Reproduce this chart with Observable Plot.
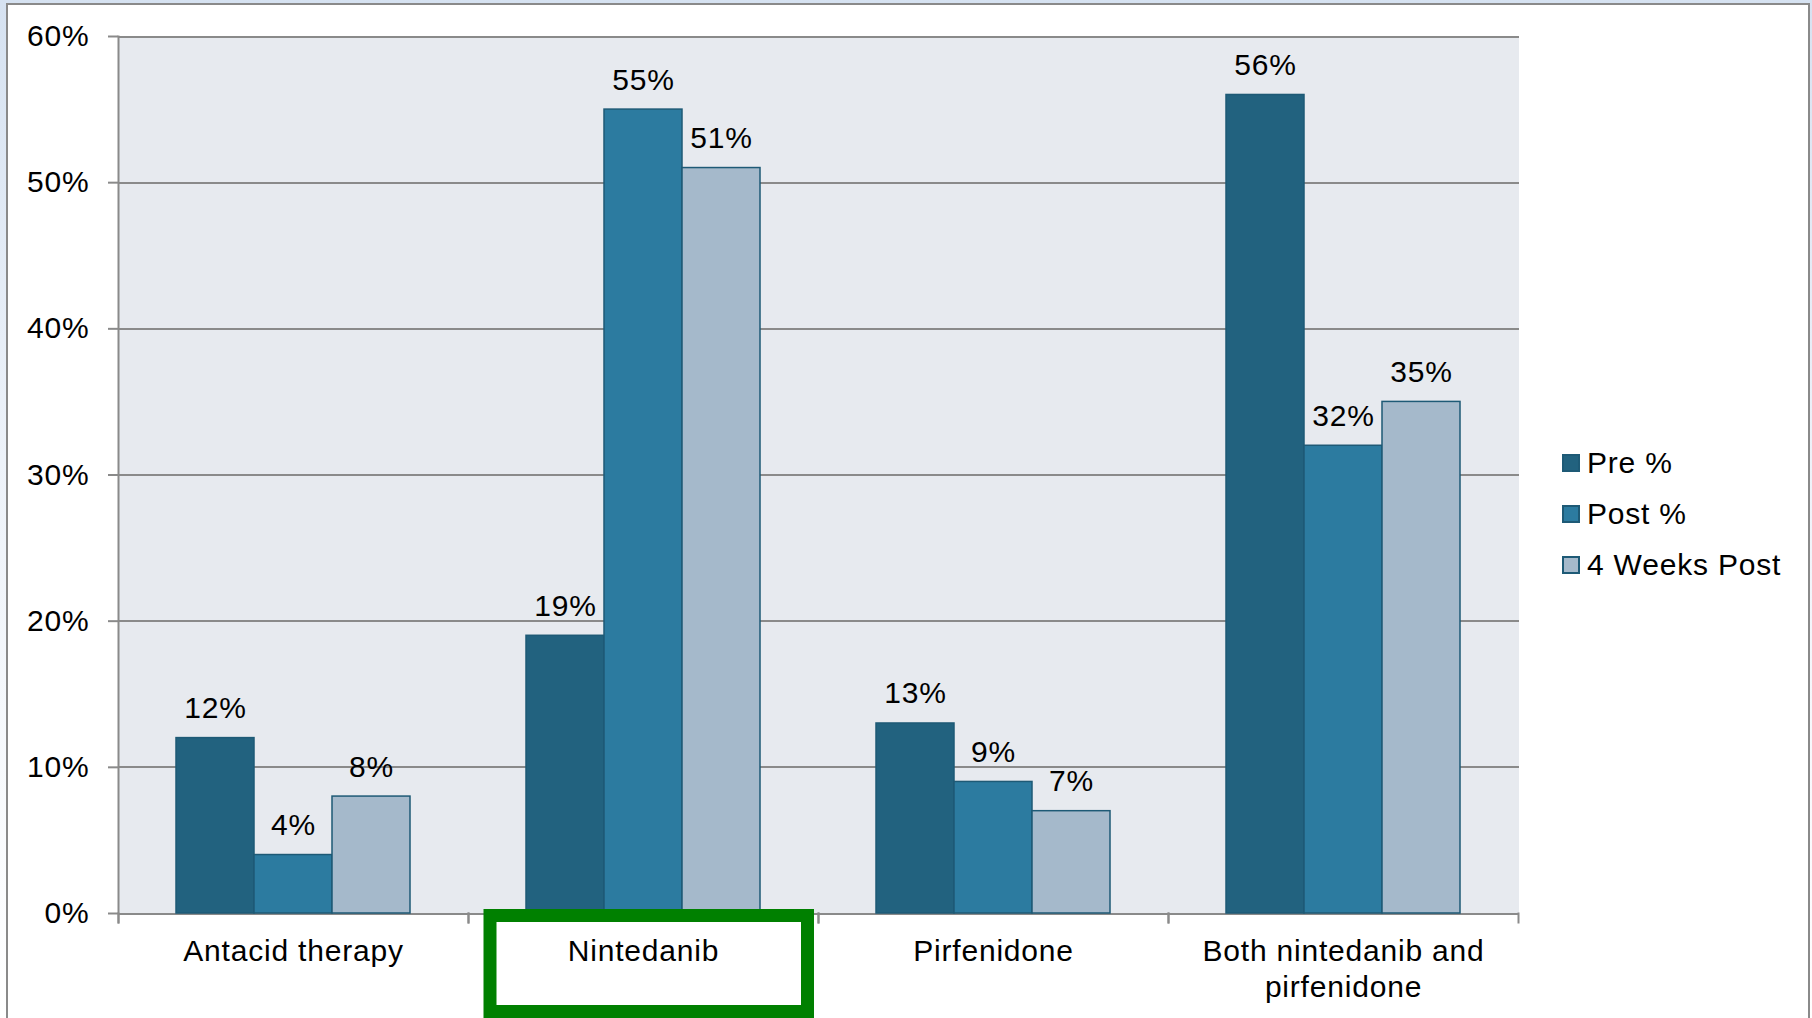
<!DOCTYPE html>
<html>
<head>
<meta charset="utf-8">
<script src="https://cdn.jsdelivr.net/npm/d3@7"></script>
<script src="https://cdn.jsdelivr.net/npm/@observablehq/plot@0.6"></script>
<style>
  html, body { margin: 0; padding: 0; }
  body {
    width: 1812px; height: 1018px; overflow: hidden; position: relative;
    background: linear-gradient(to bottom, #d6e2f1 0%, #edf2f9 45%, #ffffff 100%);
    font-family: "Liberation Sans", Arial, sans-serif;
  }
  #sheet {
    position: absolute; left: 6px; top: 3px; width: 1804px; height: 1040px;
    box-sizing: border-box; background: #ffffff; border: 2px solid #8a8a8a;
  }
  #chart { position: absolute; left: 0; top: 0; }
  #legend { position: absolute; left: 1562px; top: 0; }
  .legend-row {
    position: absolute; left: 0; height: 30px; line-height: 30px; white-space: nowrap;
    font-size: 30px; letter-spacing: 0.8px; color: #000;
  }
  .legend-swatch {
    position: absolute; left: 0; top: 6px; width: 18px; height: 18px;
    box-sizing: border-box; border: 2px solid #1e5a76;
  }
  .legend-label { position: absolute; left: 25px; top: 0; }
</style>
</head>
<body>
<div id="sheet"></div>
<div id="chart"></div>
<div id="legend"></div>
<script>
// Treatment groups along the horizontal axis
const categories = ["Antacid therapy", "Nintedanib", "Pirfenidone", "Both nintedanib and pirfenidone"];
const categoryLabels = ["Antacid therapy", "Nintedanib", "Pirfenidone", "Both nintedanib and\npirfenidone"];

// Survey time points (one bar each per group)
const series = ["Pre %", "Post %", "4 Weeks Post"];
const seriesColors = ["#22627f", "#2c7ba0", "#a5b9cb"];

// Percentages per group, in the order of `categories`
const preValues = [12, 19, 13, 56];
const postValues = [4, 55, 9, 32];
const weeksPostValues = [8, 51, 7, 35];

// Value axis ticks (percent)
const yTicks = [0, 10, 20, 30, 40, 50, 60];

// Group whose label is boxed in green
const highlightedCategory = "Nintedanib";

const valuesBySeries = [preValues, postValues, weeksPostValues];
const rows = categories.flatMap((category, i) =>
  series.map((s, j) => ({category, series: s, value: valuesBySeries[j][i]}))
);

const W = 1812, H = 1018;
const margin = {top: 36, right: 293, bottom: 105, left: 117};
const plotHeight = H - margin.top - margin.bottom;
const gray = "#8a8a8a";

const chart = Plot.plot({
  width: W,
  height: H,
  marginTop: margin.top,
  marginRight: margin.right,
  marginBottom: margin.bottom,
  marginLeft: margin.left,
  style: {
    background: "transparent",
    fontFamily: "'Liberation Sans', Arial, sans-serif",
    fontSize: "30px",
    letterSpacing: "0.8px",
    color: "#000"
  },
  fx: {domain: categories, padding: 0, label: null},
  x: {domain: series, paddingInner: 0, paddingOuter: 0.72, axis: null},
  y: {domain: [0, 60], label: null},
  color: {domain: series, range: seriesColors},
  marks: [
    // plot area background (crisp edges so the groups join without seams)
    Plot.frame({fill: "#e7eaef", stroke: null, shapeRendering: "crispEdges", insetRight: -0.5}),
    // horizontal gridlines, including the baseline
    Plot.ruleY(yTicks, {stroke: gray, strokeWidth: 2, shapeRendering: "crispEdges", insetRight: -0.5}),
    // bars
    Plot.barY(rows, {
      fx: "category", x: "series", y: "value", fill: "series",
      stroke: "#1e5a76", strokeWidth: 1.5
    }),
    // value labels above the bars
    Plot.text(rows, {
      fx: "category", x: "series", y: "value",
      text: d => d.value + "%", lineAnchor: "bottom", dy: -20, fill: "#000"
    }),
    // value axis
    Plot.axisY({
      ticks: yTicks, tickFormat: d => d + "%", tickSize: 10, tickPadding: 19,
      stroke: gray, strokeWidth: 2, fill: "#000", label: null
    }),
    // vertical axis line on the first group
    Plot.frame({anchor: "left", fx: () => categories[0], stroke: gray, strokeWidth: 2, insetBottom: -9}),
    // tick marks at the group boundaries
    Plot.frame({anchor: "left", stroke: gray, strokeWidth: 2, insetTop: plotHeight, insetBottom: -9}),
    Plot.frame({anchor: "right", stroke: gray, strokeWidth: 2, insetTop: plotHeight, insetBottom: -9}),
    // group labels
    Plot.axisFx({
      anchor: "bottom", tickSize: 0, tickPadding: 23, label: null,
      tickFormat: c => categoryLabels[categories.indexOf(c)], lineHeight: 1.17, fill: "#000"
    }),
    // green box around the highlighted group label
    Plot.rect([highlightedCategory], {
      fx: d => d, y1: 0, y2: 0, fill: "none", stroke: "#008000", strokeWidth: 13,
      insetLeft: 22, insetRight: 10.5, insetTop: 2.5, insetBottom: -98.5
    })
  ]
});
document.getElementById("chart").append(chart);

// Legend to the right of the plot
const legendCenters = [462.5, 513.5, 564.5];
const legend = document.getElementById("legend");
series.forEach((s, i) => {
  const row = document.createElement("div");
  row.className = "legend-row";
  row.style.top = (legendCenters[i] - 15) + "px";
  const swatch = document.createElement("span");
  swatch.className = "legend-swatch";
  swatch.style.background = seriesColors[i];
  const label = document.createElement("span");
  label.className = "legend-label";
  label.textContent = s;
  row.append(swatch, label);
  legend.append(row);
});
</script>
</body>
</html>
